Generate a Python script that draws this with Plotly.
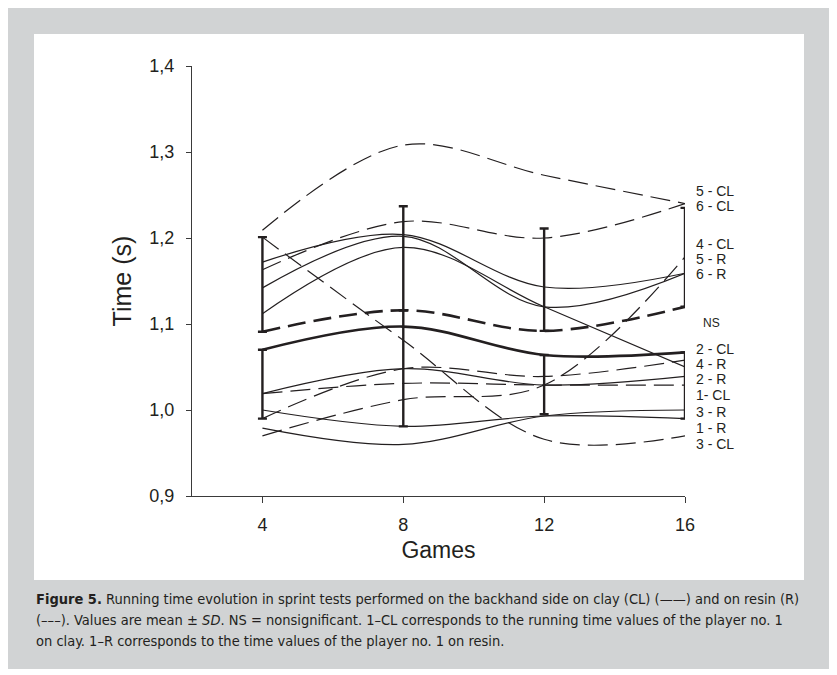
import plotly.graph_objects as go

# ---------------- data ----------------
games = [4, 8, 12, 16]

# upper group of players
line_a = [1.209, 1.308, 1.273, 1.240]   # long dashed, top
line_b = [1.163, 1.219, 1.200, 1.240]   # dashed
line_d = [1.172, 1.204, 1.143, 1.159]   # solid
line_e = [1.142, 1.202, 1.120, 1.159]   # solid
line_f = [1.112, 1.189, 1.120, 1.050]   # solid, descending
line_c = [1.201, 1.081, 0.966, 0.970]   # dashed, descending

# lower group of players
line_g = [1.019, 1.048, 1.029, 1.039]   # solid
line_h = [1.019, 1.031, 1.029, 1.029]   # dashed
line_i = [0.990, 1.048, 1.039, 1.058]   # dashed
line_j = [0.970, 1.012, 1.029, 1.178]   # dashed, steep rise
line_k = [1.000, 0.981, 0.993, 0.990]   # solid
line_l = [0.979, 0.960, 0.993, 1.000]   # solid

# mean +/- SD envelopes
upper_sd_top = [1.201, 1.237, 1.211, 1.235]
upper_sd_low = [1.091, 1.116, 1.092, 1.120]   # thick dashed
lower_sd_top = [1.070, 1.097, 1.064, 1.067]   # thick solid
lower_sd_bar_top = [1.070, 1.116, 1.064, 1.067]
lower_sd_low = [0.990, 0.981, 0.995, 0.990]

right_labels = ["5 - CL", "6 - CL", "4 - CL", "5 - R", "6 - R",
                "2 - CL", "4 - R", "2 - R", "1- CL", "3 - R", "1 - R", "3 - CL"]
right_label_y = [1.255, 1.237, 1.193, 1.176, 1.158,
                 1.071, 1.054, 1.036, 1.018, 0.998, 0.979, 0.961]

y_ticks = [0.9, 1.0, 1.1, 1.2, 1.3, 1.4]
y_ticktext = ["0,9", "1,0", "1,1", "1,2", "1,3", "1,4"]

# ---------------- style ----------------
INK = "#231f20"
AXC = "#3a3a3a"
FONT = "Liberation Sans, Arial, Helvetica, sans-serif"
NARROW = "DejaVu Sans Condensed, Liberation Sans Narrow, sans-serif"
DASH = "20px,8px"
THIN = 1.2
THICK = 2.6

fig = go.Figure()


def add_line(y, dash=None, width=THIN):
    fig.add_trace(go.Scatter(
        x=games, y=y, mode="lines",
        line=dict(color=INK, width=width, dash=dash, shape="spline", smoothing=1.0),
        hoverinfo="skip", showlegend=False))


for ys in [line_d, line_e, line_f, line_g, line_k, line_l]:
    add_line(ys)
for ys in [line_a, line_b, line_c, line_h, line_i, line_j]:
    add_line(ys, dash=DASH)

add_line(upper_sd_low, dash="18px,8px", width=THICK)
add_line(lower_sd_top, width=THICK)

# vertical SD bars
fig.add_trace(go.Scatter(
    x=games, y=upper_sd_low, mode="markers", marker=dict(size=1, opacity=0),
    error_y=dict(type="data", symmetric=False,
                 array=[t - b for t, b in zip(upper_sd_top, upper_sd_low)],
                 arrayminus=[0] * len(games),
                 color=INK, thickness=2.4, width=4.5),
    hoverinfo="skip", showlegend=False))
fig.add_trace(go.Scatter(
    x=games, y=lower_sd_low, mode="markers", marker=dict(size=1, opacity=0),
    error_y=dict(type="data", symmetric=False,
                 array=[t - b for t, b in zip(lower_sd_bar_top, lower_sd_low)],
                 arrayminus=[0] * len(games),
                 color=INK, thickness=2.4, width=4.5),
    hoverinfo="skip", showlegend=False))

# ---------------- layout geometry (page body has an 8px margin) ----------------
OFF = 8
L, R, T, B = 192 - OFF, 685 - OFF, 66 - OFF, 496 - OFF
W, H = 837, 675


def px(x):
    return (x - OFF - L) / (R - L)


def py(y):
    return (B - (y - OFF)) / (B - T)


shapes = [
    dict(type="rect", xref="paper", yref="paper", layer="below",
         x0=px(6), x1=px(831), y0=py(669), y1=py(6),
         fillcolor="#d1d3d4", line=dict(width=0)),
    dict(type="rect", xref="paper", yref="paper", layer="below",
         x0=px(34), x1=px(804), y0=py(580), y1=py(34),
         fillcolor="white", line=dict(width=0)),
]

annotations = []
for txt, yv in zip(right_labels, right_label_y):
    annotations.append(dict(x=16, y=yv, xref="x", yref="y", text=txt,
                            showarrow=False, xanchor="left", yanchor="middle",
                            xshift=9, font=dict(family=FONT, size=14, color=INK)))
annotations.append(dict(x=16, y=1.101, xref="x", yref="y", text="NS",
                        showarrow=False, xanchor="left", yanchor="middle",
                        xshift=16, font=dict(family=FONT, size=12, color=INK)))

caption = [
    "<b>Figure 5.</b> Running time evolution in sprint tests performed on the backhand side on clay (CL) (——) and on resin (R)",
    "(–––). Values are mean ± <i>SD</i>. NS = nonsignificant. 1–CL corresponds to the running time values of the player no. 1",
    "on clay. 1–R corresponds to the time values of the player no. 1 on resin.",
]
cap_y = [599, 620, 641]
for txt, yy in zip(caption, cap_y):
    annotations.append(dict(x=px(34), y=py(yy), xref="paper", yref="paper", text=txt,
                            showarrow=False, xanchor="left", yanchor="middle",
                            font=dict(family=NARROW, size=14.5, color=INK)))

fig.update_layout(
    width=W, height=H, autosize=False,
    margin=dict(l=L, r=W - R, t=T, b=H - B, pad=0),
    paper_bgcolor="white", plot_bgcolor="rgba(0,0,0,0)",
    showlegend=False, shapes=shapes, annotations=annotations,
    xaxis=dict(range=[2, 16], tickvals=games, ticks="outside", ticklen=6,
               tickwidth=1.2, tickcolor=AXC, showline=True, linecolor=AXC,
               linewidth=1.3, showgrid=False, zeroline=False,
               tickfont=dict(family=FONT, size=18, color=INK),
               ticklabelstandoff=6,
               title=dict(text="Games", font=dict(family=FONT, size=23, color=INK),
                          standoff=8)),
    yaxis=dict(range=[0.9, 1.4], tickvals=y_ticks, ticktext=y_ticktext,
               ticks="outside", ticklen=5, tickwidth=1.2, tickcolor=AXC,
               showline=True, linecolor=AXC, linewidth=1.3, showgrid=False,
               zeroline=False, tickfont=dict(family=FONT, size=18, color=INK),
               ticklabelstandoff=8,
               title=dict(text="Time (s)", font=dict(family=FONT, size=25, color=INK),
                          standoff=10)),
)

fig.write_html("out.html")
